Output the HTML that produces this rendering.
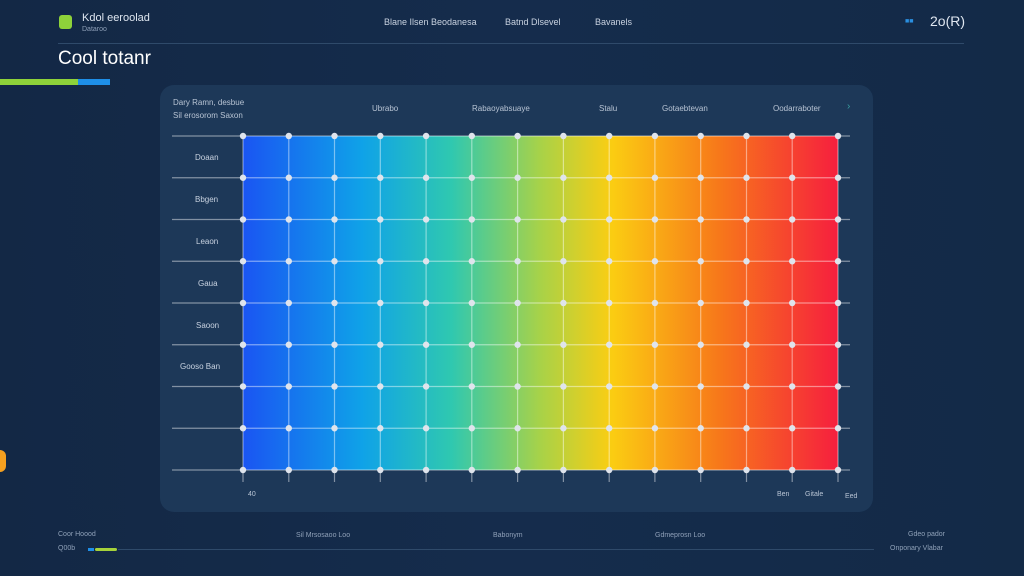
<!DOCTYPE html>
<html><head><meta charset="utf-8">
<style>
html,body{margin:0;padding:0;}
body{width:1024px;height:576px;overflow:hidden;background:linear-gradient(90deg,#132845,#152c4c 50%,#132a47);font-family:"Liberation Sans",sans-serif;color:#dfe6f0;position:relative;}
.t{position:absolute;white-space:nowrap;}
</style></head><body>
<div style="position:absolute;left:59px;top:15px;width:13px;height:14px;background:#8ed23a;border-radius:3px"></div>
<div class="t" style="left:82px;top:12px;font-size:11px">Kdol eeroolad</div>
<div class="t" style="left:82px;top:26px;font-size:7px;color:#8fa0b8">Dataroo</div>
<div class="t" style="left:384px;top:17px;font-size:9px;color:#c8d2e0">Blane Ilsen Beodanesa</div>
<div class="t" style="left:505px;top:17px;font-size:9px;color:#c8d2e0">Batnd Dlsevel</div>
<div class="t" style="left:595px;top:17px;font-size:9px;color:#c8d2e0">Bavanels</div>
<div class="t" style="left:905px;top:18px;font-size:7px;color:#2a8fe0">■■</div>
<div class="t" style="left:930px;top:13px;font-size:14px">2o(R)</div>
<div style="position:absolute;left:58px;top:43px;width:906px;height:1px;background:#2f4a6a"></div>
<div class="t" style="left:58px;top:48px;font-size:19px;color:#fff">Cool totanr</div>
<div style="position:absolute;left:0;top:79px;width:78px;height:6px;background:#8ed23a"></div>
<div style="position:absolute;left:78px;top:79px;width:32px;height:6px;background:#1e8fe8"></div>
<div style="position:absolute;left:160px;top:85px;width:713px;height:427px;background:#1d3858;border-radius:14px"></div>
<div class="t" style="left:173px;top:98px;font-size:8px;color:#b8c4d4">Dary Ramn, desbue</div>
<div class="t" style="left:173px;top:111px;font-size:8px;color:#b8c4d4">Sil erosorom Saxon</div>
<div class="t" style="left:372px;top:104px;font-size:8px;color:#b8c4d4">Ubrabo</div>
<div class="t" style="left:472px;top:104px;font-size:8px;color:#b8c4d4">Rabaoyabsuaye</div>
<div class="t" style="left:599px;top:104px;font-size:8px;color:#b8c4d4">Stalu</div>
<div class="t" style="left:662px;top:104px;font-size:8px;color:#b8c4d4">Gotaebtevan</div>
<div class="t" style="left:773px;top:104px;font-size:8px;color:#b8c4d4">Oodarraboter</div>
<div class="t" style="left:847px;top:101px;font-size:10px;color:#3aa0a0">›</div>
<div class="t" style="left:195px;top:153px;font-size:8px;color:#c8d2e0">Doaan</div>
<div class="t" style="left:195px;top:195px;font-size:8px;color:#c8d2e0">Bbgen</div>
<div class="t" style="left:196px;top:237px;font-size:8px;color:#c8d2e0">Leaon</div>
<div class="t" style="left:198px;top:279px;font-size:8px;color:#c8d2e0">Gaua</div>
<div class="t" style="left:196px;top:321px;font-size:8px;color:#c8d2e0">Saoon</div>
<div class="t" style="left:180px;top:362px;font-size:8px;color:#c8d2e0">Gooso Ban</div>
<svg style="position:absolute;left:0;top:0" width="1024" height="576">
<defs><linearGradient id="g" x1="243" x2="838" gradientUnits="userSpaceOnUse">
<stop offset="0" stop-color="#1a55f2"/><stop offset="0.2" stop-color="#0fa2e8"/><stop offset="0.35" stop-color="#2fc8b0"/><stop offset="0.5" stop-color="#a8d248"/><stop offset="0.62" stop-color="#fbcd12"/><stop offset="0.8" stop-color="#f7781a"/><stop offset="1" stop-color="#f61f3e"/></linearGradient></defs>
<rect x="243" y="136" width="595" height="334" fill="url(#g)"/>
<g stroke="#ffffff" stroke-opacity="0.45" stroke-width="1.2">
<line x1="172" x2="850" y1="136" y2="136"/><line x1="172" x2="850" y1="177.75" y2="177.75"/><line x1="172" x2="850" y1="219.5" y2="219.5"/><line x1="172" x2="850" y1="261.25" y2="261.25"/><line x1="172" x2="850" y1="303" y2="303"/><line x1="172" x2="850" y1="344.75" y2="344.75"/><line x1="172" x2="850" y1="386.5" y2="386.5"/><line x1="172" x2="850" y1="428.25" y2="428.25"/><line x1="172" x2="850" y1="470" y2="470"/>
<line x1="243" x2="243" y1="136" y2="482"/><line x1="288.8" x2="288.8" y1="136" y2="482"/><line x1="334.5" x2="334.5" y1="136" y2="482"/><line x1="380.3" x2="380.3" y1="136" y2="482"/><line x1="426.1" x2="426.1" y1="136" y2="482"/><line x1="471.8" x2="471.8" y1="136" y2="482"/><line x1="517.6" x2="517.6" y1="136" y2="482"/><line x1="563.4" x2="563.4" y1="136" y2="482"/><line x1="609.2" x2="609.2" y1="136" y2="482"/><line x1="654.9" x2="654.9" y1="136" y2="482"/><line x1="700.7" x2="700.7" y1="136" y2="482"/><line x1="746.5" x2="746.5" y1="136" y2="482"/><line x1="792.2" x2="792.2" y1="136" y2="482"/><line x1="838" x2="838" y1="136" y2="482"/>
</g>
<g fill="#dfe4ec" id="dots"></g>
</svg>
<div class="t" style="left:248px;top:491px;font-size:7px;color:#b8c4d4">40</div>
<div class="t" style="left:777px;top:491px;font-size:7px;color:#b8c4d4">Ben</div>
<div class="t" style="left:805px;top:491px;font-size:7px;color:#b8c4d4">Gitale</div>
<div class="t" style="left:845px;top:493px;font-size:7px;color:#b8c4d4">Eed</div>
<div style="position:absolute;left:0;top:450px;width:6px;height:22px;background:#f5a020;border-radius:0 8px 8px 0"></div>
<div class="t" style="left:58px;top:531px;font-size:7px;color:#8fa0b8">Coor Hoood</div>
<div class="t" style="left:296px;top:532px;font-size:7px;color:#8fa0b8">Sil Mrsosaoo Loo</div>
<div class="t" style="left:493px;top:532px;font-size:7px;color:#8fa0b8">Babonym</div>
<div class="t" style="left:655px;top:532px;font-size:7px;color:#8fa0b8">Gdmeprosn Loo</div>
<div class="t" style="left:908px;top:531px;font-size:7px;color:#8fa0b8">Gdeo pador</div>
<div class="t" style="left:58px;top:545px;font-size:7px;color:#8fa0b8">Q00b</div>
<div style="position:absolute;left:88px;top:548px;width:6px;height:3px;background:#1e8fe8"></div>
<div style="position:absolute;left:95px;top:548px;width:22px;height:3px;background:#a6d23a;border-radius:2px"></div>
<div style="position:absolute;left:118px;top:549px;width:756px;height:1px;background:#2f4a6a"></div>
<div class="t" style="left:890px;top:545px;font-size:7px;color:#8fa0b8">Onponary Vlabar</div>
<script>
var g=document.getElementById('dots'),s='';
var xs=[243,288.8,334.5,380.3,426.1,471.8,517.6,563.4,609.2,654.9,700.7,746.5,792.2,838];
for(var r=0;r<9;r++){var y=136+r*41.75;for(var i=0;i<14;i++){if(r==0||r==8||i==0||i==1||i==2||i==13||i==9||i==11||i==7||i==5||i==3||i==4||i==6||i==8||i==10||i==12)s+='<circle cx="'+xs[i]+'" cy="'+y+'" r="3.2"/>';}}
g.innerHTML=s;
</script>
</body></html>
